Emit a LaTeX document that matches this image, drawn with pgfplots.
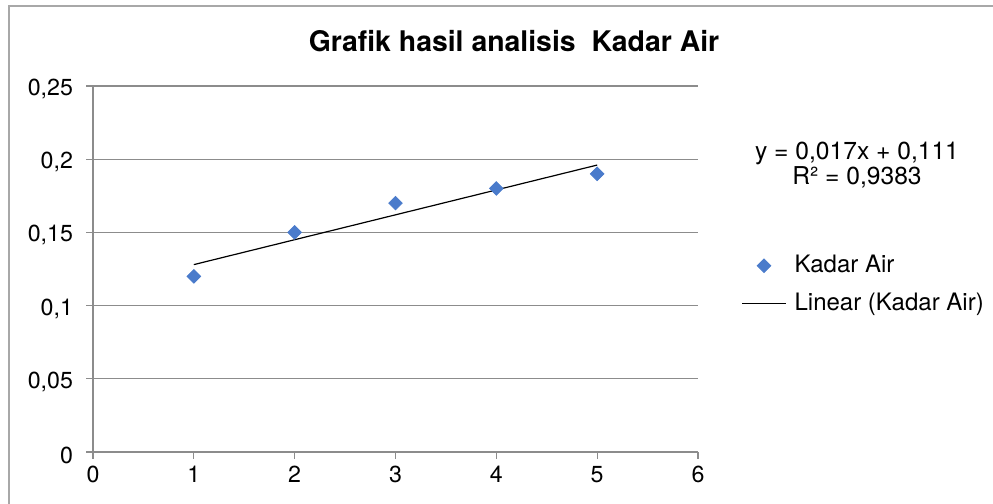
\documentclass[border=0pt]{standalone}
\usepackage{pgfplots}
\pgfplotsset{compat=1.18}
\usepackage{fontspec}
\setmainfont{TeX Gyre Heros}
\definecolor{ptblue}{HTML}{4A7BCB}
\definecolor{gridgray}{HTML}{8C8C8C}
\definecolor{framegray}{HTML}{A8A8A8}
\begin{document}
\begin{tikzpicture}[x=1pt,y=1pt]
\useasboundingbox (0,0) rectangle (496.5,252);
\draw[color=framegray, line width=0.9pt] (4.5,-5) -- (4.5,249) -- (505,249);
\node[anchor=base, font=\bfseries\fontsize{14.2}{16}\selectfont] at (257,226) {Grafik hasil analisis \ Kadar Air};
\node[align=center, font=\fontsize{12.3}{12.5}\selectfont, anchor=base] at (428.5,159.5) {y = 0,017x + 0,111\\R² = 0,9383};
\begin{axis}[
  at={(46.5pt,26pt)}, anchor=south west,
  scale only axis, width=302.5pt, height=183pt,
  xmin=0, xmax=6, ymin=0, ymax=0.25,
  axis x line=bottom, axis y line=left,
  axis line style={gridgray, line width=0.6pt, -},
  xtick={0,1,2,3,4,5,6},
  ytick={0,0.05,0.1,0.15,0.2,0.25},
  yticklabels={0,{0,05},{0,1},{0,15},{0,2},{0,25}},
  tick style={gridgray, line width=0.6pt},
  tick align=outside, major tick length=3.5pt,
  ymajorgrids, grid style={gridgray, line width=0.6pt},
  ticklabel style={font=\fontsize{11.6}{13}\selectfont},
  yticklabel style={xshift=-3pt, yshift=-1.5pt},
  /pgf/number format/assume math mode=true,
  legend cell align=left,
  legend image code/.code={\draw[mark repeat=2,mark phase=2,#1] plot coordinates {(0pt,0pt) (11pt,0pt) (22pt,0pt)};},
  legend style={at={(1.0711,0.4577)}, anchor=west, draw=none, fill=none,
    inner sep=0pt, row sep=8.5pt, column sep=4pt,
    font=\fontsize{12}{14}\selectfont,
    nodes={inner sep=0pt}},
]
\addplot[only marks, mark=square*, mark size=2.4pt, mark options={rotate=45, fill=ptblue, draw=ptblue}, ptblue]
  coordinates {(1,0.12)(2,0.15)(3,0.17)(4,0.18)(5,0.19)};
\addlegendentry{Kadar Air}
\addplot[black, line width=0.6pt, no marks] coordinates {(1,0.128)(5,0.196)};
\addlegendentry{Linear (Kadar Air)}
\end{axis}
\end{tikzpicture}
\end{document}
